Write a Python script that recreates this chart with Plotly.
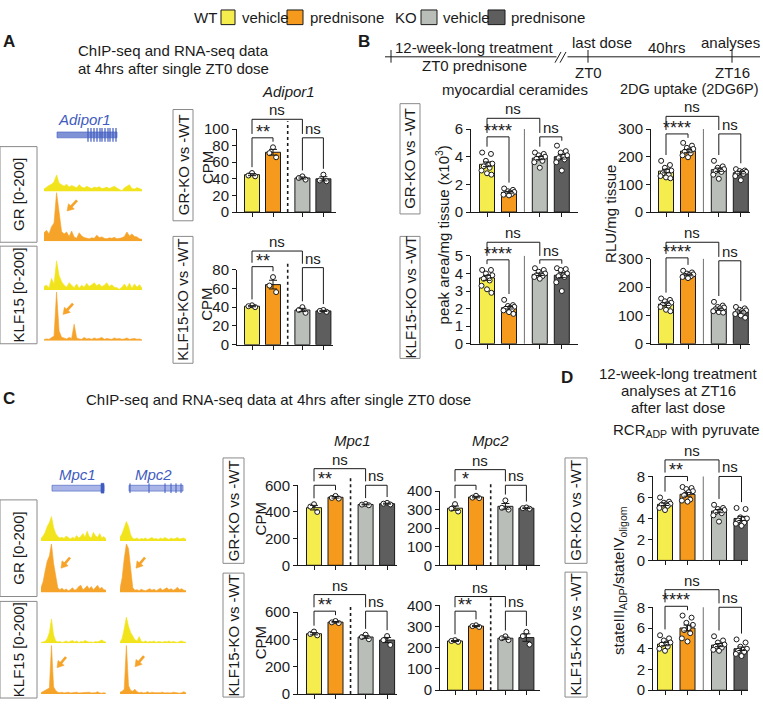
import numpy as np
import plotly.graph_objects as go

W, H = 763, 707
FONT = "Arial, 'Liberation Sans', sans-serif"
INK = '#1a1a1a'
BAR_COLORS = ['#F5EC4E', '#F59A1C', '#B9BFB8', '#5E5E5E']
TRACK_YELLOW = '#F2E41C'
TRACK_ORANGE = '#F6A329'
BOX_GRAY = '#8a8a8a'
GENE_BLUE = '#3F5BC0'
FS = 15

# ---------------- data ----------------
groups = ['WT vehicle', 'WT prednisone', 'KO vehicle', 'KO prednisone']
POS = [0, 1, 2.4, 3.4]

adipor1_gr_mean = [45, 72, 41, 40]
adipor1_gr_pts = [[47, 44, 43], [78, 71, 66], [43, 41, 39], [45, 38, 37]]
adipor1_klf_mean = [41, 64, 37, 36]
adipor1_klf_pts = [[42, 41, 40], [72, 63, 56], [40, 37, 34], [37, 36, 35]]

cer_gr_mean = [3.45, 1.42, 3.9, 4.0]
cer_gr_pts = [[4.3, 4.2, 3.7, 3.5, 3.4, 3.3, 3.2, 3.0, 2.8, 2.7],
              [1.7, 1.6, 1.5, 1.45, 1.4, 1.35, 1.3, 1.25, 1.2],
              [4.3, 4.2, 4.1, 4.0, 3.9, 3.85, 3.7, 3.6, 3.2],
              [4.8, 4.4, 4.3, 4.1, 4.0, 3.9, 3.8, 3.6, 3.0]]
cer_klf_mean = [3.75, 2.05, 3.95, 3.9]
cer_klf_pts = [[4.2, 4.2, 4.0, 3.9, 3.8, 3.7, 3.6, 3.3, 3.1, 2.9],
               [2.5, 2.2, 2.15, 2.1, 2.05, 2.0, 1.95, 1.9, 1.8, 1.7],
               [4.3, 4.2, 4.1, 4.0, 3.95, 3.9, 3.85, 3.8, 3.7],
               [4.3, 4.25, 4.2, 4.0, 3.9, 3.85, 3.8, 3.5, 3.0]]
dg_gr_mean = [148, 220, 153, 142]
dg_gr_pts = [[185, 170, 160, 150, 148, 140, 135, 130, 125, 122],
             [250, 240, 232, 228, 222, 218, 212, 205, 198],
             [185, 165, 160, 155, 150, 148, 145, 135, 120],
             [155, 150, 148, 145, 143, 140, 138, 130, 115]]
dg_klf_mean = [140, 243, 122, 112]
dg_klf_pts = [[160, 155, 150, 145, 140, 138, 135, 130, 120, 115],
              [258, 252, 248, 245, 243, 240, 238, 236, 232],
              [148, 135, 130, 128, 125, 122, 118, 115, 112, 110],
              [130, 125, 120, 118, 115, 112, 110, 105, 100, 92]]
mpc1_gr_mean = [432, 510, 456, 462]
mpc1_gr_pts = [[458, 440, 400], [520, 505, 500], [460, 455, 450], [468, 462, 456]]
mpc1_klf_mean = [442, 527, 418, 396]
mpc1_klf_pts = [[458, 440, 430], [535, 525, 520], [435, 418, 402], [425, 395, 360]]
mpc2_gr_mean = [308, 368, 318, 308]
mpc2_gr_pts = [[330, 305, 290], [375, 365, 362], [350, 310, 300], [312, 308, 305]]
mpc2_klf_mean = [232, 302, 245, 248]
mpc2_klf_pts = [[236, 232, 228], [306, 302, 298], [254, 245, 236], [275, 255, 215]]
rcr_gr_mean = [5.35, 6.3, 4.7, 4.0]
rcr_gr_pts = [[6.0, 5.6, 5.5, 5.4, 5.35, 5.3, 5.2, 5.0, 4.8],
              [7.0, 6.9, 6.8, 6.6, 6.5, 6.2, 5.8, 5.7, 5.6],
              [5.3, 5.0, 4.9, 4.8, 4.7, 4.6, 4.5, 4.3, 3.7],
              [5.0, 4.9, 4.1, 4.0, 3.9, 3.8, 3.6, 3.5, 3.3]]
rcr_klf_mean = [4.45, 6.0, 4.35, 4.0]
rcr_klf_pts = [[5.3, 5.0, 4.8, 4.6, 4.5, 4.4, 4.2, 4.0, 3.8],
               [7.2, 7.0, 6.5, 6.3, 6.0, 5.8, 5.5, 5.0, 4.7],
               [5.2, 4.8, 4.6, 4.4, 4.3, 4.2, 4.1, 3.9, 3.8],
               [4.9, 4.6, 4.2, 4.0, 3.9, 3.8, 3.7, 3.5, 3.3]]

# ChIP-seq signal tracks (scale 0-200)
adipor1_gr_veh = [10, 18, 25, 30, 40, 68, 35, 28, 22, 30, 18, 25, 20, 15, 28, 18, 14, 22, 16, 12,
                  18, 15, 20, 12, 14, 18, 12, 16, 22, 14, 10, 3, 15, 22, 28, 12, 10, 16, 12, 8]
adipor1_gr_pred = [35, 45, 30, 60, 75, 200, 120, 40, 30, 38, 20, 42, 18, 12, 35, 22, 15, 12, 10, 14,
                   12, 25, 15, 18, 12, 10, 14, 12, 16, 10, 12, 14, 20, 38, 22, 30, 20, 18, 10, 8]
adipor1_klf_veh = [15, 20, 10, 48, 25, 120, 60, 35, 20, 12, 30, 18, 10, 25, 8, 20, 12, 28, 15, 22,
                   30, 18, 25, 14, 20, 30, 15, 22, 12, 10, 3, 12, 25, 10, 28, 8, 25, 12, 22, 8]
adipor1_klf_pred = [5, 8, 6, 12, 20, 200, 40, 15, 10, 8, 14, 10, 68, 12, 8, 6, 14, 8, 10, 6,
                    12, 8, 10, 14, 6, 10, 8, 6, 12, 8, 10, 6, 8, 12, 6, 8, 10, 6, 8, 4]
mpc1_gr_veh = [10, 20, 35, 60, 75, 100, 55, 30, 18, 12, 15, 10, 20, 12, 8, 15,
               10, 22, 12, 18, 30, 15, 40, 18, 12, 35, 20, 15, 30, 12, 18, 8]
mpc1_gr_pred = [20, 45, 90, 130, 150, 200, 120, 60, 20, 12, 18, 10, 15, 8, 12, 20,
                10, 14, 25, 30, 12, 18, 28, 15, 25, 12, 20, 30, 15, 22, 12, 10]
mpc1_klf_veh = [4, 6, 8, 20, 45, 100, 35, 10, 6, 8, 4, 6, 10, 5, 8, 12,
                6, 10, 4, 8, 6, 12, 8, 5, 6, 4, 8, 6, 10, 14, 8, 5]
mpc1_klf_pred = [6, 10, 14, 18, 25, 200, 30, 15, 8, 6, 8, 5, 6, 8, 5, 6,
                 4, 8, 5, 6, 4, 5, 6, 8, 5, 4, 6, 10, 5, 4, 6, 3]
mpc2_gr_veh = [15, 30, 55, 80, 60, 25, 10, 8, 12, 6, 10, 8, 12, 6, 10, 14,
               8, 10, 6, 12, 8, 14, 10, 6, 12, 8, 10, 14, 8, 10, 12, 6]
mpc2_gr_pred = [15, 60, 140, 200, 180, 90, 20, 10, 12, 8, 14, 10, 8, 12, 16, 10,
                14, 8, 12, 18, 10, 14, 20, 12, 16, 10, 14, 22, 12, 16, 10, 8]
mpc2_klf_veh = [5, 20, 60, 108, 70, 45, 30, 15, 10, 28, 8, 6, 10, 5, 8, 6,
                10, 4, 8, 6, 5, 8, 6, 10, 5, 8, 6, 4, 8, 10, 6, 5]
mpc2_klf_pred = [8, 12, 20, 200, 35, 15, 12, 20, 10, 6, 8, 5, 6, 10, 5, 8,
                 6, 5, 4, 6, 8, 5, 6, 4, 5, 8, 6, 5, 4, 6, 10, 5]

JIT3 = [0.0, -0.17, 0.15]
JIT10 = [-0.22, 0.18, -0.05, 0.24, 0.05, -0.15, 0.12, -0.25, 0.0, 0.2]

# ---------------- helpers ----------------
def px(x):
    return x / W


def py(y):
    return 1 - y / H


fig = go.Figure()
layout = {}
shapes = []
annotations = []
axis_n = [0]


def new_axes():
    axis_n[0] += 1
    n = axis_n[0]
    s = '' if n == 1 else str(n)
    return 'x' + s, 'y' + s, 'xaxis' + s, 'yaxis' + s


def text(s, x, y, size=FS, angle=0, color=INK, xanchor='center', yanchor='middle',
         italic=False, bold=False):
    if italic:
        s = f'<i>{s}</i>'
    if bold:
        s = f'<b>{s}</b>'
    annotations.append(dict(text=s, x=px(x), y=py(y), xref='paper', yref='paper',
                            showarrow=False, textangle=angle, xanchor=xanchor,
                            yanchor=yanchor,
                            font=dict(size=size, color=color, family=FONT)))


def rect(x0, y0, x1, y1, line=BOX_GRAY, fill=None, width=1):
    d = dict(type='rect', xref='paper', yref='paper', x0=px(x0), x1=px(x1),
             y0=py(y0), y1=py(y1), line=dict(color=line, width=width))
    if fill:
        d['fillcolor'] = fill
    shapes.append(d)


def pline(x0, y0, x1, y1, color=INK, width=1):
    shapes.append(dict(type='line', xref='paper', yref='paper', x0=px(x0), x1=px(x1),
                       y0=py(y0), y1=py(y1), line=dict(color=color, width=width)))


def bar_chart(mean, pts, ymax, dtick, geom, sep, inner_label, brackets):
    xa, c0, u, xend, y0, ytop = geom
    xr, yr, xk, yk = new_axes()
    layout[xk] = dict(domain=[px(xa), px(xend)], range=[-(c0 - xa) / u, (xend - c0) / u],
                      anchor=yr, showline=True, linecolor=INK, linewidth=1,
                      tickmode='array', tickvals=POS, showticklabels=False,
                      ticks='outside', ticklen=4, tickwidth=1, tickcolor=INK,
                      showgrid=False, zeroline=False, fixedrange=True)
    layout[yk] = dict(domain=[py(y0), py(ytop)], range=[0, ymax], anchor=xr,
                      showline=True, linecolor=INK, linewidth=1, tick0=0, dtick=dtick,
                      ticks='outside', ticklen=4, tickwidth=1, tickcolor=INK,
                      tickfont=dict(size=FS, color=INK, family=FONT),
                      showgrid=False, zeroline=False, fixedrange=True)
    sem = [float(np.std(p, ddof=1) / np.sqrt(len(p))) for p in pts]
    fig.add_trace(go.Bar(x=POS, y=mean, width=15 / u,
                         marker=dict(color=BAR_COLORS, line=dict(color=INK, width=1)),
                         xaxis=xr, yaxis=yr, showlegend=False, hoverinfo='skip'))
    for i, p in enumerate(pts):
        jit = JIT3 if len(p) <= 3 else JIT10
        fig.add_trace(go.Scatter(
            x=[POS[i] + jit[j % len(jit)] for j in range(len(p))], y=p, mode='markers',
            marker=dict(symbol='circle', size=5, color='white',
                        line=dict(color=INK, width=1)),
            xaxis=xr, yaxis=yr, cliponaxis=False, showlegend=False, hoverinfo='skip'))
    fig.add_trace(go.Scatter(x=POS, y=mean, mode='markers',
                             marker=dict(size=1, color='rgba(0,0,0,0)'),
                             error_y=dict(type='data', array=sem, color=INK,
                                          thickness=1, width=4),
                             xaxis=xr, yaxis=yr, showlegend=False, hoverinfo='skip',
                             cliponaxis=False))
    # separator
    xs = (POS[1] + POS[2]) / 2
    if sep == 'dash':
        shapes.append(dict(type='line', xref=xr, yref='paper', x0=xs, x1=xs,
                           y0=py(y0), y1=py(ytop - 8),
                           line=dict(color=INK, width=1.6, dash='dot')))
    else:
        shapes.append(dict(type='line', xref=xr, yref='paper', x0=xs, x1=xs,
                           y0=py(y0), y1=py(ytop), line=dict(color='#707070', width=1)))

    def ypix(v):
        return y0 - v / ymax * (y0 - ytop)

    tops = [ypix(max(max(p), m + s)) for p, m, s in zip(pts, mean, sem)]
    top_y, inner_y, right_y = brackets

    def leg(yb, target):
        return max(yb + 4, target - 6)

    def bracket(i, j, yb, lb_i, lb_j, label):
        star = label != 'ns'
        path = (f'M {POS[i]},{py(lb_i)} L {POS[i]},{py(yb)} '
                f'L {POS[j]},{py(yb)} L {POS[j]},{py(lb_j)}')
        shapes.append(dict(type='path', path=path, xref=xr, yref='paper',
                           line=dict(color=INK, width=1)))
        annotations.append(dict(text=label, x=(POS[i] + POS[j]) / 2, xref=xr,
                                y=py(yb), yref='paper', yanchor='bottom',
                                showarrow=False, yshift=(-6 if star else -1),
                                font=dict(size=(18 if star else FS), color=INK,
                                          family=FONT)))

    bracket(0, 1, inner_y, leg(inner_y, tops[0]), leg(inner_y, tops[1]), inner_label)
    bracket(2, 3, right_y, leg(right_y, tops[2]), leg(right_y, tops[3]), 'ns')
    bracket(0, 2, top_y, inner_y - 4, right_y - 4, 'ns')


def track(vals, x0, x1, ytop, ybot, color):
    xr, yr, xk, yk = new_axes()
    layout[xk] = dict(domain=[px(x0), px(x1)], range=[0, len(vals) - 1], visible=False,
                      anchor=yr, fixedrange=True)
    layout[yk] = dict(domain=[py(ybot), py(ytop)], range=[0, 200], visible=False,
                      anchor=xr, fixedrange=True)
    fig.add_trace(go.Scatter(x=list(range(len(vals))), y=vals, mode='lines',
                             fill='tozeroy', fillcolor=color,
                             line=dict(color=color, width=0.6),
                             xaxis=xr, yaxis=yr, showlegend=False, hoverinfo='skip'))


def arrow(xt, yt, xtail, ytail, head=6.5, half=4.0):
    dx, dy = xt - xtail, yt - ytail
    L = (dx * dx + dy * dy) ** 0.5
    ux, uy = dx / L, dy / L
    bx, by = xt - ux * head, yt - uy * head
    pline(xtail, ytail, bx + ux, by + uy, color=TRACK_ORANGE, width=2.6)
    p1 = (bx - uy * half, by + ux * half)
    p2 = (bx + uy * half, by - ux * half)
    path = (f'M {px(xt)},{py(yt)} L {px(p1[0])},{py(p1[1])} '
            f'L {px(p2[0])},{py(p2[1])} Z')
    shapes.append(dict(type='path', path=path, xref='paper', yref='paper',
                       fillcolor=TRACK_ORANGE, line=dict(color=TRACK_ORANGE, width=0.5)))


def boxed_label(s, x0, y0, x1, y1, size=FS):
    rect(x0, y0, x1, y1)
    text(s, (x0 + x1) / 2, (y0 + y1) / 2, size=size, angle=-90)


# ---------------- legend ----------------
text('WT', 219, 9, size=15, xanchor='right')
rect(221, 1, 235, 16, line=INK, fill=BAR_COLORS[0])
text('vehicle', 240, 9, size=15, xanchor='left')
rect(287, 1, 303, 16, line=INK, fill=BAR_COLORS[1])
text('prednisone', 308, 9, size=15, xanchor='left')
text('KO', 419, 9, size=15, xanchor='right')
rect(421, 1, 437, 16, line=INK, fill=BAR_COLORS[2])
text('vehicle', 441, 9, size=15, xanchor='left')
rect(488, 1, 505, 16, line=INK, fill=BAR_COLORS[3])
text('prednisone', 509, 9, size=15, xanchor='left')

# ---------------- panel A ----------------
text('A', 9, 33, size=17, bold=True)
text('ChIP-seq and RNA-seq data', 173, 43)
text('at 4hrs after single ZT0 dose', 173, 61)
text('Adipor1', 288, 85, italic=True)
text('Adipor1', 84, 113, italic=True, color=GENE_BLUE)
rect(57, 126, 117, 132, line=GENE_BLUE, fill='#7F92D6', width=0.6)
for gx in [88, 91, 94, 97, 100, 102, 105, 108, 110, 113, 116]:
    pline(gx, 122, gx, 136, color=GENE_BLUE, width=1.2)

boxed_label('GR [0-200]', 0, 141, 37, 239)
boxed_label('KLF15 [0-200]', 0, 243, 37, 343)
track(adipor1_gr_veh, 44, 142, 137, 187, TRACK_YELLOW)
track(adipor1_gr_pred, 44, 142, 188, 238, TRACK_ORANGE)
track(adipor1_klf_veh, 44, 142, 238, 288, TRACK_YELLOW)
track(adipor1_klf_pred, 44, 142, 290, 340, TRACK_ORANGE)
arrow(67, 207, 77, 196)
arrow(63, 313, 73, 302)

boxed_label('GR-KO vs -WT', 173, 103, 193, 217)
boxed_label('KLF15-KO vs -WT', 173, 233, 193, 363)
text('CPM', 207, 163, angle=-90)
text('CPM', 207, 303, angle=-90)
bar_chart(adipor1_gr_mean, adipor1_gr_pts, 100, 20, (237, 252, 21, 336, 208, 123),
          'dash', '**', (113, 132, 132))
bar_chart(adipor1_klf_mean, adipor1_klf_pts, 80, 20, (237, 252, 21, 333, 344, 267),
          'dash', '**', (248, 264, 265))

# ---------------- panel B ----------------
text('B', 364, 33, size=17, bold=True)
pline(385, 49, 760, 49)
for tx in [391, 588, 732]:
    pline(tx, 42, tx, 55)
rect(557, 45, 567, 53, line='white', fill='white')
pline(555, 55, 561, 44)
pline(560, 55, 566, 44)
text('12-week-long treatment', 474, 39)
text('ZT0 prednisone', 474, 58)
text('last dose', 602, 34)
text('40hrs', 667, 39)
text('analyses', 730, 34)
text('ZT0', 588, 65)
text('ZT16', 732, 65)
text('myocardial ceramides', 515, 82)
text('2DG uptake (2DG6P)', 761, 82, size=14.5, xanchor='right')

boxed_label('GR-KO vs -WT', 400, 97, 420, 210)
boxed_label('KLF15-KO vs -WT', 400, 233, 420, 358)
text('peak area/mg tissue (x10<sup>3</sup>)', 442, 232, angle=-90)
text('RLU/mg tissue', 611, 210, angle=-90)
bar_chart(cer_gr_mean, cer_gr_pts, 6, 2, (471, 487, 22, 578, 208, 123),
          'solid', '****', (112, 131, 131))
bar_chart(cer_klf_mean, cer_klf_pts, 5, 1, (471, 487, 22, 578, 343, 253),
          'solid', '****', (239, 257, 257))
bar_chart(dg_gr_mean, dg_gr_pts, 300, 100, (651, 666, 22, 750, 208, 123),
          'solid', '****', (110, 128, 128))
bar_chart(dg_klf_mean, dg_klf_pts, 300, 100, (651, 666, 22, 750, 343, 256),
          'solid', '****', (239, 255, 258))

# ---------------- panel C ----------------
text('C', 9, 399, size=17, bold=True)
text('ChIP-seq and RNA-seq data at 4hrs after single ZT0 dose', 278, 400)
text('Mpc1', 352, 442, italic=True)
text('Mpc2', 490, 442, italic=True)
text('Mpc1', 77, 477, italic=True, color=GENE_BLUE)
text('Mpc2', 153, 477, italic=True, color=GENE_BLUE)
rect(52, 488, 104, 494, line=GENE_BLUE, fill='#A9B5E6', width=0.6)
rect(101, 486, 104, 496, line=GENE_BLUE, fill=GENE_BLUE, width=0.6)
rect(129, 488, 183, 494, line=GENE_BLUE, fill='#A9B5E6', width=0.6)
for gx in [130, 149, 165, 171, 176, 181]:
    pline(gx, 486, gx, 496, color=GENE_BLUE, width=1)

boxed_label('GR [0-200]', 0, 503, 37, 602)
boxed_label('KLF15 [0-200]', 0, 607, 37, 706)
track(mpc1_gr_veh, 41, 106, 495, 545, TRACK_YELLOW)
track(mpc1_gr_pred, 41, 106, 548, 598, TRACK_ORANGE)
track(mpc1_klf_veh, 41, 106, 600, 650, TRACK_YELLOW)
track(mpc1_klf_pred, 41, 106, 652, 702, TRACK_ORANGE)
track(mpc2_gr_veh, 120, 186, 495, 545, TRACK_YELLOW)
track(mpc2_gr_pred, 120, 186, 548, 598, TRACK_ORANGE)
track(mpc2_klf_veh, 120, 186, 600, 650, TRACK_YELLOW)
track(mpc2_klf_pred, 120, 186, 652, 702, TRACK_ORANGE)
arrow(61, 573, 70, 562)
arrow(136, 573, 145, 562)
arrow(57, 675, 66, 664)
arrow(135, 674, 144, 663)

boxed_label('GR-KO vs -WT', 223, 460, 244, 568)
boxed_label('KLF15-KO vs -WT', 223, 578, 244, 705)
text('CPM', 260, 523, angle=-90)
text('CPM', 260, 650, angle=-90)
bar_chart(mpc1_gr_mean, mpc1_gr_pts, 600, 200, (298, 314, 21.5, 397, 570, 488),
          'dash', '**', (471, 488, 488))
bar_chart(mpc1_klf_mean, mpc1_klf_pts, 600, 200, (298, 314, 21.5, 397, 702, 618),
          'dash', '**', (600, 617, 617))
bar_chart(mpc2_gr_mean, mpc2_gr_pts, 400, 100, (440, 455, 21, 540, 570, 494),
          'dash', '*', (472, 488, 488))
bar_chart(mpc2_klf_mean, mpc2_klf_pts, 400, 100, (440, 455, 21, 540, 698, 611),
          'dash', '**', (602, 617, 617))

# ---------------- panel D ----------------
text('D', 567, 378, size=17, bold=True)
text('12-week-long treatment', 678, 373)
text('analyses at ZT16', 678, 391)
text('after last dose', 678, 408)
text('RCR<sub>ADP</sub> with pyruvate', 686, 432)
boxed_label('GR-KO vs -WT', 565, 460, 587, 568)
boxed_label('KLF15-KO vs -WT', 565, 577, 587, 705)
text('stateIII<sub>ADP</sub>/stateIV<sub>oligom</sub>', 620, 586, angle=-90)
bar_chart(rcr_gr_mean, rcr_gr_pts, 8, 2, (653, 665, 22.5, 748, 565, 479),
          'solid', '**', (462, 479, 479))
bar_chart(rcr_klf_mean, rcr_klf_pts, 8, 2, (653, 665, 22.5, 748, 698, 613),
          'solid', '****', (595, 612, 613))

fig.update_layout(**layout)
fig.update_layout(width=W, height=H, margin=dict(l=0, r=0, t=0, b=0),
                  paper_bgcolor='white', plot_bgcolor='rgba(0,0,0,0)',
                  showlegend=False, shapes=shapes, annotations=annotations,
                  font=dict(family=FONT, color=INK, size=FS))
fig.write_html('out.html', config={'displayModeBar': False},
               post_script="document.body.style.margin='0';"
                           "document.body.style.overflow='hidden';")
